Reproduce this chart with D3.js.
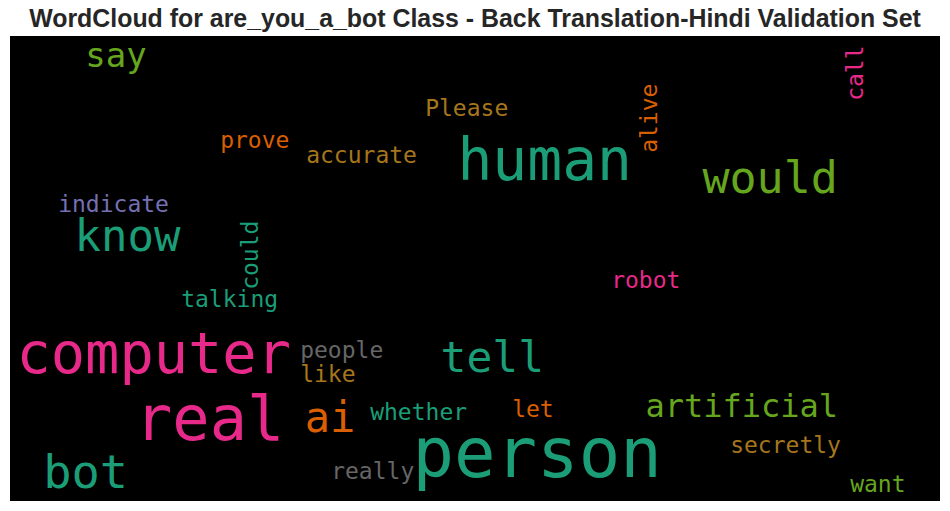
<!DOCTYPE html>
<html>
<head>
<meta charset="utf-8">
<script src="https://cdn.jsdelivr.net/npm/d3@7"></script>
<style>
  html, body { margin: 0; padding: 0; background: #ffffff; }
  svg { display: block; }
</style>
</head>
<body>
<svg id="chart" width="950" height="511"></svg>
<script>
// ---- data (word cloud layout; cloud space 930 x 465) ----
const words    = ["person","real","human","computer","bot","would","know","tell","ai","say",
                  "artificial","Please","prove","accurate","indicate","talking","people","like",
                  "whether","really","robot","let","secretly","want","alive","call","could"];
const fontSizes = [69, 62, 58, 57, 47, 45, 44, 43, 42, 34,
                   32, 23, 23, 23, 23, 23, 23, 23,
                   23, 23, 23, 23, 23, 23, 23, 23, 23];
const posX     = [408, 130, 452, 11, 37, 696, 68, 434, 298, 78,
                  638, 417, 212, 298, 50, 173, 292, 292,
                  362, 323, 603, 504, 722, 842, 647, 853, 248];
const posY     = [441, 404, 144, 337, 452, 157, 215, 336, 396, 31,
                  381, 80, 112, 127, 176, 271, 322, 346,
                  384, 443, 252, 381, 417, 456, 115, 63, 252];
const vertical = [0,0,0,0,0,0,0,0,0,0, 0,0,0,0,0,0,0,0, 0,0,0,0,0,0,1,1,1];
// Dark2 colour index per word: 0 teal,1 orange,2 purple,3 pink,4 green,5 yellow,6 brown,7 gray
const colorIdx = [0,3,0,3,0,4,0,0,1,4, 4,6,1,6,2,0,7,6, 0,7,3,1,6,4,1,3,0];
const titleText = "WordCloud for are_you_a_bot Class - Back Translation-Hindi Validation Set";

// ---- drawing ----
const svg = d3.select("#chart");
const cloudW = 930, cloudH = 465;
const box = {left: 10, top: 36, right: 940, bottom: 501};

const x = d3.scaleLinear().domain([0, cloudW]).range([box.left, box.right]);
const y = d3.scaleLinear().domain([0, cloudH]).range([box.top, box.bottom]);
const fs = d3.scaleLinear().domain([0, cloudW]).range([0, box.right - box.left]);
const color = d3.scaleOrdinal().domain(d3.range(8)).range(d3.schemeDark2);

svg.append("text")
  .attr("x", 475).attr("y", 27)
  .attr("text-anchor", "middle")
  .attr("font-family", "Liberation Sans, Arial, sans-serif")
  .attr("font-weight", "bold")
  .attr("font-size", 24.9)
  .attr("fill", "#262626")
  .text(titleText);

svg.append("rect")
  .attr("x", box.left).attr("y", box.top)
  .attr("width", box.right - box.left).attr("height", box.bottom - box.top)
  .attr("fill", "#000000");

const data = words.map((w, i) => ({
  word: w, size: fontSizes[i], x: posX[i], y: posY[i], v: vertical[i], c: colorIdx[i]
}));

svg.append("g").selectAll("text")
  .data(data)
  .join("text")
  .attr("transform", d => `translate(${x(d.x)},${y(d.y)})` + (d.v ? " rotate(-90)" : ""))
  .attr("dx", "-0.08em")
  .attr("font-family", "DejaVu Sans Mono, monospace")
  .attr("font-size", d => fs(d.size))
  .attr("fill", d => color(d.c))
  .text(d => d.word);
</script>
</body>
</html>
